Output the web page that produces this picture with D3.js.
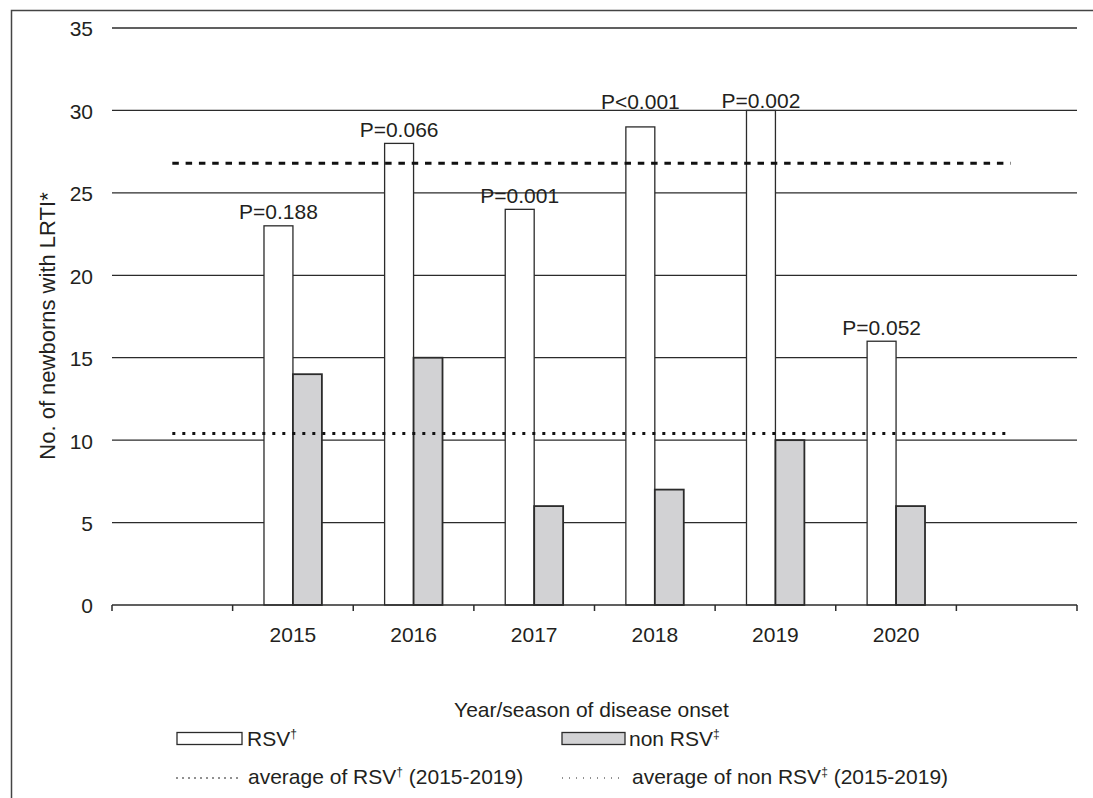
<!DOCTYPE html>
<html>
<head>
<meta charset="utf-8">
<script src="https://cdn.jsdelivr.net/npm/d3@7"></script>
<style>
  html, body { margin: 0; padding: 0; background: #fff; }
  svg { display: block; }
  text { font-family: "Liberation Sans", Arial, sans-serif; fill: #231f20; }
</style>
</head>
<body>
<svg id="chart" width="1093" height="798"></svg>
<script>
// Seasons of disease onset
const years = ["2015", "2016", "2017", "2018", "2019", "2020"];
// Newborns with LRTI per season
const rsvCounts = [23, 28, 24, 29, 30, 16];
const nonRsvCounts = [14, 15, 6, 7, 10, 6];
// P-values printed above each season
const pValues = ["P=0.188", "P=0.066", "P=0.001", "P<0.001", "P=0.002", "P=0.052"];
// Seasons used for the averages
const averageYears = ["2015", "2016", "2017", "2018", "2019"];
const yTicks = [0, 5, 10, 15, 20, 25, 30, 35];

const svg = d3.select("#chart");
const ink = "#2b2b2b";
const fs = 21;

// frame
svg.append("path")
  .attr("d", "M11.5,798 V10.5 H1093")
  .attr("fill", "none").attr("stroke", "#444").attr("stroke-width", 1.5);

const plot = { left: 112, right: 1077, top: 28, bottom: 605 };

// empty lead/trail slots on both sides of the seasons
const slots = ["lead", ...years, "trail"];
const x = d3.scaleBand().domain(slots).range([plot.left, plot.right]).padding(0);
const bw = x.bandwidth();
const xSub = d3.scaleBand().domain(["rsv", "non"]).range([bw * 0.26, bw * 0.74]).padding(0);
const y = d3.scaleLinear().domain([0, 35]).range([plot.bottom, plot.top]);

// gridlines
svg.append("g").selectAll("line").data(yTicks.filter(d => d > 0)).join("line")
  .attr("x1", plot.left).attr("x2", plot.right)
  .attr("y1", d => y(d)).attr("y2", d => y(d))
  .attr("stroke", ink).attr("stroke-width", 1.3);

// y labels
const yAxis = svg.append("g").attr("transform", `translate(${plot.left},0)`)
  .call(d3.axisLeft(y).tickValues(yTicks).tickSize(0).tickPadding(19));
yAxis.select(".domain").remove();
yAxis.selectAll("text").attr("font-size", fs).attr("font-family", "Liberation Sans, Arial, sans-serif")
  .attr("fill", "#231f20").attr("dy", "0.38em");

// bars
const rows = years.map((yr, i) => ({ yr, rsv: rsvCounts[i], non: nonRsvCounts[i], p: pValues[i] }));
const g = svg.append("g");
g.selectAll("rect.rsv").data(rows).join("rect").attr("class", "rsv")
  .attr("x", d => x(d.yr) + xSub("rsv"))
  .attr("width", xSub.bandwidth())
  .attr("y", d => y(d.rsv))
  .attr("height", d => y(0) - y(d.rsv))
  .attr("fill", "#fff").attr("stroke", ink).attr("stroke-width", 1.3);
g.selectAll("rect.non").data(rows).join("rect").attr("class", "non")
  .attr("x", d => x(d.yr) + xSub("non"))
  .attr("width", xSub.bandwidth())
  .attr("y", d => y(d.non))
  .attr("height", d => y(0) - y(d.non))
  .attr("fill", "#d2d2d4").attr("stroke", ink).attr("stroke-width", 1.8);

// x axis baseline with ticks on slot boundaries
const xAxis = svg.append("g").attr("transform", `translate(0,${plot.bottom})`)
  .call(d3.axisBottom(x).tickSize(0).tickPadding(22)
    .tickFormat(d => years.includes(d) ? d : ""));
xAxis.select(".domain").attr("stroke", ink).attr("stroke-width", 1.5)
  .attr("d", `M${plot.left},0H${plot.right}`);
xAxis.selectAll("text").attr("font-size", fs).attr("font-family", "Liberation Sans, Arial, sans-serif")
  .attr("fill", "#231f20");
const bounds = slots.map(s => x(s)).concat([x.range()[1]]);
svg.append("g").selectAll("line").data(bounds).join("line")
  .attr("x1", d => d).attr("x2", d => d)
  .attr("y1", plot.bottom).attr("y2", plot.bottom + 6)
  .attr("stroke", ink).attr("stroke-width", 1.5);

// averages over 2015-2019
const idx = averageYears.map(a => years.indexOf(a));
const avgRsv = d3.mean(idx, i => rsvCounts[i]);
const avgNon = d3.mean(idx, i => nonRsvCounts[i]);
const xa = x("lead") + bw / 2, xb = x("trail") + bw / 2 - 6;
svg.append("line").attr("x1", xa).attr("x2", xb).attr("y1", y(avgRsv)).attr("y2", y(avgRsv))
  .attr("stroke", "#111").attr("stroke-width", 3).attr("stroke-dasharray", "6.5,6.8");
svg.append("line").attr("x1", xa).attr("x2", xb).attr("y1", y(avgNon)).attr("y2", y(avgNon))
  .attr("stroke", "#111").attr("stroke-width", 3).attr("stroke-dasharray", "3,7");

// P-value labels over the RSV bars
const lift = { "2018": 18, "2019": 2 };
svg.append("g").selectAll("text").data(rows).join("text")
  .attr("x", d => x(d.yr) + xSub("rsv") + xSub.bandwidth() / 2)
  .attr("y", d => y(d.rsv) - (lift[d.yr] !== undefined ? lift[d.yr] : 6.5))
  .attr("text-anchor", "middle").attr("font-size", fs)
  .text(d => d.p);

// axis titles
svg.append("text")
  .attr("transform", "translate(55,326) rotate(-90)")
  .attr("text-anchor", "middle").attr("font-size", 22)
  .text("No. of newborns with LRTI*");
svg.append("text")
  .attr("x", (plot.left + plot.right) / 2 - 3).attr("y", 717)
  .attr("text-anchor", "middle").attr("font-size", fs)
  .text("Year/season of disease onset");

// legend
const legend = svg.append("g");
function labelWithMark(xp, yp, before, mark, after) {
  const t = legend.append("text").attr("x", xp).attr("y", yp).attr("font-size", fs);
  t.append("tspan").text(before);
  t.append("tspan").attr("font-size", 12).attr("dy", -8).text(mark);
  if (after) t.append("tspan").attr("dy", 8).text(after);
}
legend.append("rect").attr("x", 177).attr("y", 732.5).attr("width", 65).attr("height", 12)
  .attr("fill", "#fff").attr("stroke", ink).attr("stroke-width", 1.3);
labelWithMark(247, 746, "RSV", "\u2020");
legend.append("rect").attr("x", 562).attr("y", 732.5).attr("width", 63).attr("height", 12)
  .attr("fill", "#d2d2d4").attr("stroke", ink).attr("stroke-width", 1.3);
labelWithMark(629, 746, "non RSV", "\u2021");

legend.append("line").attr("x1", 176).attr("x2", 242).attr("y1", 778).attr("y2", 778)
  .attr("stroke", "#222").attr("stroke-width", 1).attr("stroke-dasharray", "2,4");
labelWithMark(248, 784, "average of RSV", "\u2020", " (2015-2019)");
legend.append("line").attr("x1", 562).attr("x2", 625).attr("y1", 778).attr("y2", 778)
  .attr("stroke", "#222").attr("stroke-width", 1).attr("stroke-dasharray", "1,6");
labelWithMark(632, 784, "average of non RSV", "\u2021", " (2015-2019)");
</script>
</body>
</html>
